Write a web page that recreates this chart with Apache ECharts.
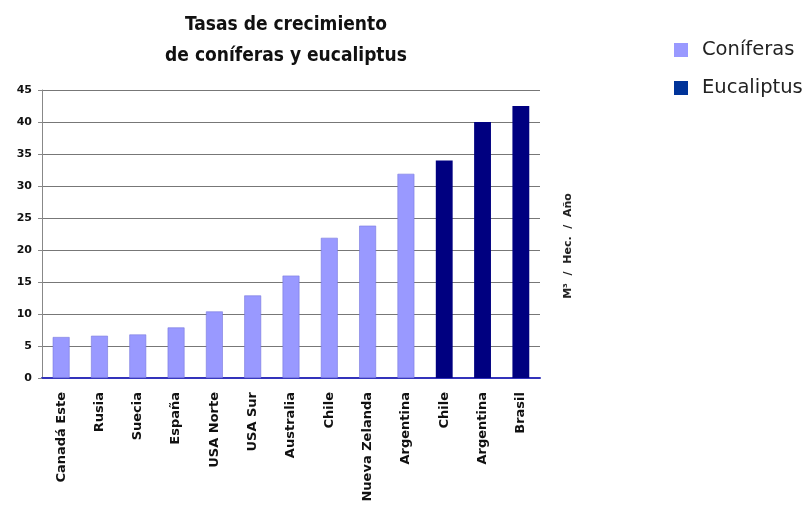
<!DOCTYPE html>
<html><head><meta charset="utf-8">
<script src="https://cdn.jsdelivr.net/npm/echarts@6/dist/echarts.min.js"></script>
<style>html,body{margin:0;padding:0;background:#fff}#c{width:808px;height:507px}</style>
</head><body><div id="c"></div>
<script>
const categories = ['Canadá Este','Rusia','Suecia','España','USA Norte','USA Sur','Australia','Chile','Nueva Zelanda','Argentina','Chile','Argentina','Brasil'];
const coniferas = [6.4, 6.6, 6.8, 7.9, 10.4, 12.9, 16.0, 21.9, 23.8, 31.9, null, null, null];
const eucaliptus = [null, null, null, null, null, null, null, null, null, null, 34.0, 40.0, 42.5];
const yTicks = [0, 45, 5];

const chart = echarts.init(document.getElementById('c'));
chart.setOption({
  animation: false,
  title: {
    text: 'Tasas de crecimiento\nde coníferas y eucaliptus',
    left: 281, top: 5, textAlign: 'center',
    textStyle: {fontFamily: 'DejaVu Sans Condensed', fontWeight: 'bold', fontSize: 19, lineHeight: 31, color: '#111'}
  },
  legend: {
    orient: 'vertical', left: 669, top: 35, itemGap: 18, itemWidth: 14, itemHeight: 14,
    icon: 'rect',
    itemStyle: {borderWidth: 0},
    textStyle: {fontFamily: 'DejaVu Sans', fontSize: 19.5, color: '#222', padding: [0,0,0,9]},
    data: [{name: 'Coníferas', itemStyle: {color: '#9999ff', borderWidth: 0}}, {name: 'Eucaliptus', itemStyle: {color: '#003399', borderWidth: 0}}]
  },
  grid: {left: 42, right: 268, top: 90, bottom: 129, outerBoundsMode: 'none', containLabel: false},
  xAxis: {
    type: 'category', data: categories,
    axisLine: {lineStyle: {color: '#3333bb', width: 2}},
    axisTick: {show: false},
    axisLabel: {rotate: 90, interval: 0, margin: 14, fontFamily: 'DejaVu Sans', fontWeight: 'bold', fontSize: 13, color: '#111'}
  },
  yAxis: {
    type: 'value', min: yTicks[0], max: yTicks[1], interval: yTicks[2],
    axisLine: {show: true, lineStyle: {color: '#888', width: 1}},
    axisTick: {show: true, length: 4, lineStyle: {color: '#888'}},
    splitLine: {lineStyle: {color: '#777', width: 1}},
    axisLabel: {fontFamily: 'DejaVu Sans', fontWeight: 'bold', fontSize: 11, color: '#111', margin: 10}
  },
  graphic: [{
    type: 'text', x: 568, y: 246, rotation: Math.PI / 2,
    style: {text: 'M³  /  Hec.  /  Año', fontFamily: 'DejaVu Sans', fontWeight: 'bold', fontSize: 11, fill: '#222', align: 'center', verticalAlign: 'middle'}
  }],
  series: [
    {name: 'Coníferas', type: 'bar', stack: 'a', data: coniferas, barWidth: '44%',
     itemStyle: {color: '#9999ff', borderColor: '#7777dd', borderWidth: 0.6}},
    {name: 'Eucaliptus', type: 'bar', stack: 'a', data: eucaliptus, barWidth: '44%',
     itemStyle: {color: '#000080'}}
  ]
});
</script></body></html>
